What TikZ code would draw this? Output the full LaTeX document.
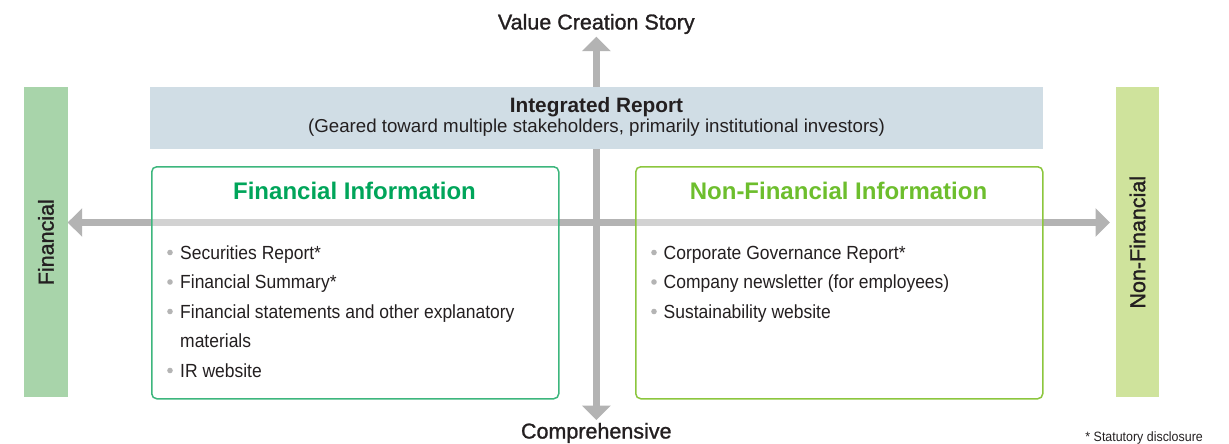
\documentclass[tikz,border=0pt]{standalone}
\usepackage{fontspec}
\setmainfont{Liberation Sans}
\newfontfamily\condfont[FakeStretch=0.92]{Liberation Sans}
\newfontfamily\medfont[FakeBold=1.2]{Liberation Sans}
\usetikzlibrary{arrows.meta}

\definecolor{txt}{HTML}{231F20}
\definecolor{axisgray}{HTML}{B3B3B3}
\definecolor{bandblue}{HTML}{D0DDE5}
\definecolor{finbar}{HTML}{A8D4AA}
\definecolor{nonfinbar}{HTML}{CFE39C}
\definecolor{finedge}{HTML}{3DB67D}
\definecolor{fintitle}{HTML}{00A55A}
\definecolor{nonfinedge}{HTML}{8CC63E}
\definecolor{nonfintitle}{HTML}{6DBE2D}
\definecolor{dotgray}{HTML}{B4B4B4}

\tikzset{
  axisline/.style={draw=axisgray, line width=7.5pt,
    {Triangle[length=14.5pt,width=28pt]}-{Triangle[length=14.5pt,width=28pt]}},
  sidebar/.style={anchor=north west, inner sep=0pt, minimum width=43.5pt, minimum height=310pt},
  infobox/.style={anchor=north west, inner sep=0pt, minimum width=407pt, minimum height=232pt,
    rounded corners=5pt, line width=1.5pt, fill=white, fill opacity=0.42},
  axislabel/.style={inner sep=0pt, anchor=base, text=txt, font=\medfont\fontsize{21.5}{26}\selectfont},
  sidelabel/.style={inner sep=0pt, rotate=90, text=txt, font=\medfont\fontsize{21.5}{26}\selectfont},
  boxtitle/.style={inner sep=0pt, anchor=base, font=\bfseries\fontsize{24}{28}\selectfont},
  item/.style={inner sep=0pt, anchor=base west, text=txt, font=\condfont\fontsize{19}{23}\selectfont},
  dot/.style={circle, fill=dotgray, inner sep=0pt, minimum size=5.6pt}
}

\begin{document}
\begin{tikzpicture}[x=1pt, y=-1pt]
\useasboundingbox (0,0) rectangle (1229,444);

% axis end points
\coordinate (vtop) at (596.3,36.7);
\coordinate (vbot) at (596.3,420);
\coordinate (hleft) at (67.7,222.5);
\coordinate (hright) at (1110,222.5);

% the two axes
\draw[axisline] (vtop) -- (vbot);
\draw[axisline] (hleft) -- (hright);

% side bars
\node[sidebar, fill=finbar] (finbar) at (24,87) {};
\node[sidebar, fill=nonfinbar] (nonfinbar) at (1115.5,87) {};
\node[sidelabel] (finlabel) at (finbar.center) {Financial};
\node[sidelabel] (nonfinlabel) at (nonfinbar.center) {Non-Financial};

% integrated report band
\node[anchor=north west, inner sep=0pt, minimum width=893pt, minimum height=61.5pt, fill=bandblue]
  (band) at (150,87) {};
\node[inner sep=0pt, anchor=base, text=txt, font=\bfseries\fontsize{20.8}{25}\selectfont]
  (irtitle) at (596.5,112.5) {Integrated Report};
\node[inner sep=0pt, anchor=base, text=txt, font=\fontsize{18.7}{22}\selectfont]
  (irsub) at (596.5,132.5) {(Geared toward multiple stakeholders, primarily institutional investors)};

% axis labels
\node[axislabel] (vcs) at (596.3,29.5) {Value Creation Story};
\node[axislabel] (comp) at (596.3,438.5) {Comprehensive};

% information boxes
\node[infobox, draw=finedge] (finbox) at (151,166) {};
\node[infobox, draw=nonfinedge] (nonfinbox) at (635,166) {};
\node[boxtitle, text=fintitle] (fintitleN) at (354.5,199.5) {Financial Information};
\node[boxtitle, text=nonfintitle] (nonfintitleN) at (838.5,199.5) {Non-Financial Information};

% financial items
\node[item] (f1) at (180,259) {Securities Report*};
\node[item] (f2) at (180,288.5) {Financial Summary*};
\node[item] (f3) at (180,318) {Financial statements and other explanatory};
\node[item] (f3b) at (180,347.5) {materials};
\node[item] (f4) at (180,377) {IR website};
\foreach \y in {259,288.5,318,377} \node[dot] at (170,\y-6.5) {};

% non-financial items
\node[item] (n1) at (663.5,259) {Corporate Governance Report*};
\node[item] (n2) at (663.5,288.5) {Company newsletter (for employees)};
\node[item] (n3) at (663.5,318) {Sustainability website};
\foreach \y in {259,288.5,318} \node[dot] at (654,\y-6.5) {};

% footnote
\node[inner sep=0pt, anchor=base east, text=txt, font=\condfont\fontsize{13.5}{16}\selectfont]
  (note) at (1203,441) {* Statutory disclosure};
\end{tikzpicture}
\end{document}
